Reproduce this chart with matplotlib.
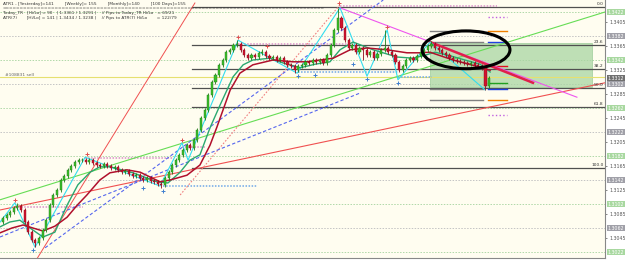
import matplotlib
matplotlib.use("Agg")
import matplotlib.pyplot as plt
from matplotlib.patches import Ellipse, Rectangle

# ---------------- data ----------------
closes = [
1.3079,1.3084,1.3089,1.3095,1.3099,1.3092,1.3072,1.3055,1.3042,1.3037,
1.3045,1.3059,1.3075,1.3100,1.3117,1.3125,1.3142,1.3149,1.3159,1.3165,
1.3172,1.3175,1.3175,1.3172,1.3175,1.3170,1.3167,1.3165,1.3169,1.3165,
1.3162,1.3164,1.3159,1.3155,1.3157,1.3152,1.3149,1.3150,1.3145,1.3142,
1.3145,1.3140,1.3139,1.3135,1.3134,1.3145,1.3155,1.3167,1.3175,1.3184,
1.3192,1.3200,1.3195,1.3209,1.3225,1.3245,1.3259,1.3284,1.3305,1.3317,
1.3334,1.3342,1.3355,1.3359,1.3367,1.3369,1.3359,1.3350,1.3345,1.3350,
1.3347,1.3354,1.3355,1.3349,1.3345,1.3347,1.3342,1.3345,1.3339,1.3334,
1.3332,1.3325,1.3332,1.3334,1.3339,1.3337,1.3342,1.3339,1.3342,1.3337,
1.3350,1.3367,1.3392,1.3412,1.3395,1.3375,1.3362,1.3367,1.3355,1.3362,
1.3359,1.3350,1.3355,1.3345,1.3352,1.3359,1.3362,1.3355,1.3350,1.3339,
1.3325,1.3332,1.3342,1.3345,1.3342,1.3349,1.3355,1.3359,1.3365,1.3369,
1.3362,1.3359,1.3354,1.3350,1.3345,1.3342,1.3340,1.3339,1.3337,1.3335,
1.3337,1.3334,1.3332,1.3329,1.3299,1.3312]
opens = [
1.3072,1.3079,1.3084,1.3089,1.3095,1.3099,1.3092,1.3072,1.3055,1.3042,
1.3037,1.3045,1.3059,1.3075,1.3100,1.3117,1.3125,1.3142,1.3149,1.3159,
1.3165,1.3172,1.3175,1.3175,1.3172,1.3175,1.3170,1.3167,1.3165,1.3169,
1.3165,1.3162,1.3164,1.3159,1.3155,1.3157,1.3152,1.3149,1.3150,1.3145,
1.3142,1.3145,1.3140,1.3139,1.3135,1.3134,1.3145,1.3155,1.3167,1.3175,
1.3184,1.3192,1.3200,1.3195,1.3209,1.3225,1.3245,1.3259,1.3284,1.3305,
1.3317,1.3334,1.3342,1.3355,1.3359,1.3367,1.3369,1.3359,1.3350,1.3345,
1.3350,1.3347,1.3354,1.3355,1.3349,1.3345,1.3347,1.3342,1.3345,1.3339,
1.3334,1.3332,1.3325,1.3332,1.3334,1.3339,1.3337,1.3342,1.3339,1.3342,
1.3337,1.3350,1.3367,1.3392,1.3412,1.3395,1.3375,1.3362,1.3367,1.3355,
1.3362,1.3359,1.3350,1.3355,1.3345,1.3352,1.3359,1.3362,1.3355,1.3350,
1.3339,1.3325,1.3332,1.3342,1.3345,1.3342,1.3349,1.3355,1.3359,1.3365,
1.3369,1.3362,1.3359,1.3354,1.3350,1.3345,1.3342,1.3340,1.3339,1.3337,
1.3335,1.3337,1.3334,1.3332,1.3329,1.3299]
upper_wick_pips = [
3,3,3,3,5,3,3,3,3,3,
3,3,3,3,3,3,3,3,3,3,
3,4,3,3,4,3,3,3,3,3,
3,3,3,3,3,3,3,3,3,3,
3,3,3,3,3,3,3,3,3,3,
3,3,3,3,3,3,3,3,3,3,
3,3,3,3,3,7,3,3,3,3,
3,3,6,3,3,3,3,3,3,3,
3,3,3,3,3,3,3,3,3,3,
3,3,3,17,3,3,3,3,3,3,
3,3,3,3,3,3,30,3,3,3,
3,3,3,3,3,3,3,3,3,4,
3,3,3,3,3,3,3,3,3,3,
3,3,3,3,3,3]
lower_wick_pips = [
3,3,3,3,3,3,3,3,3,7,
3,3,3,3,3,3,3,3,3,3,
3,3,3,3,3,3,3,3,3,3,
3,3,3,3,3,3,3,3,3,3,
3,3,3,3,5,3,3,3,3,3,
3,3,3,3,3,3,3,3,3,3,
3,3,3,3,3,3,3,3,3,3,
3,3,3,3,3,3,3,3,3,3,
3,5,3,3,3,3,3,3,3,3,
3,3,3,3,3,3,3,3,3,3,
17,3,3,3,3,3,3,3,3,3,
3,3,3,3,3,3,3,3,3,3,
3,3,3,3,3,3,3,3,3,3,
3,3,3,3,7,3]

fast_ma_x = [-0.8,1.9,4.7,7.5,11.1,14.4,17.8,20.8,24.2,26.9,29.7,36.1,42.8,45.8,49.2,51.9,54.7,57.5,60.3,63.9,
             66.7,69.4,74.2,77.8,82.5,86.7,90.8,93.6,97.2,102.8,109.4,113.9,117.2,120,124.2,128.3,132.5,135.3]
fast_ma_y = [1.3064,1.3072,1.3075,1.3062,1.3047,1.3055,1.3100,1.3134,1.3155,1.3164,1.3164,1.3154,1.3139,1.3137,
             1.3155,1.3175,1.3184,1.3229,1.3267,1.3314,1.3334,1.3342,1.3345,1.3337,1.3329,1.3335,1.3339,1.3359,
             1.3372,1.3359,1.3347,1.3345,1.3350,1.3355,1.3349,1.3342,1.3335,1.3322]
slow_ma_x = [-0.8,2.5,5.6,8.3,11.1,14.4,17.8,20.6,23.3,26.9,29.7,34.4,38.1,43.6,46.4,51.1,54.7,57.5,59.4,63.1,
             65.8,69.4,75,80.6,84.4,91.7,96.4,101.1,106.7,112.2,115.8,118.6,125,132.5,135.3]
slow_ma_y = [1.3054,1.3062,1.3067,1.3062,1.3057,1.3065,1.3080,1.3100,1.3117,1.3142,1.3154,1.3159,1.3155,1.3139,
             1.3142,1.3150,1.3167,1.3200,1.3230,1.3292,1.3320,1.3334,1.3342,1.3339,1.3339,1.3345,1.3359,1.3362,
             1.3359,1.3354,1.3354,1.3355,1.3342,1.3330,1.3325]

zigzag_x = [-0.8,3.3,8.9,22.8,43.6,49.7,51.4,65.3,81.7,93.6,101.1,106.7,109.7,118.6,133.9]
zigzag_y = [1.3072,1.3104,1.3030,1.3180,1.3132,1.3204,1.3175,1.3375,1.3320,1.3429,1.3315,1.3392,1.3309,1.3372,1.3292]

high_mark_x = [3.3,23.3,49.7,65.3,73.3,93.3,106.7]
high_mark_y = [1.3109,1.3185,1.3209,1.3380,1.3365,1.3437,1.3397]
low_mark_x = [8.3,38.9,44.4,81.9,86.7,97.2,101.1,109.7]
low_mark_y = [1.3025,1.3129,1.3124,1.3315,1.3317,1.3335,1.3310,1.3304]

# trend lines: (x0, y0, x1, y1)
trend_lines = {
    "green":   (-0.83, 1.3109, 167.2, 1.3422),
    "red":     (-0.83, 1.3092, 167.2, 1.3304),
    "steep":   (8.33, 1.3000, 53.3, 1.3437),
    "salmon":  (49.2, 1.3117, 93.6, 1.3434),
    "magenta": (93.6, 1.3429, 159.4, 1.3280),
    "thick":   (118.6, 1.3372, 147.2, 1.3304),
    "blue1":   (11.7, 1.3029, 105.6, 1.3442),
    "blue2":   (-0.83, 1.3047, 99.2, 1.3287),
}

fib_high, fib_low = 1.3430, 1.3162
fib_ratios = [0.0, 23.6, 38.2, 50.0, 61.8, 100.0]

pink_levels = [(3.3, 22.2, 1.3097), (22.8, 47.2, 1.3179), (49.7, 56.1, 1.3197),
               (65.3, 96.4, 1.3369), (93.6, 137.2, 1.3432)]
blue_levels = [(44.4, 70.6, 1.3132), (81.9, 109.7, 1.3322), (109.7, 119.2, 1.3314)]
pivot_left = [1.3390, 1.3372, 1.3294, 1.3275]
pivot_right = [(1.3414, '#c060e0', ':'), (1.3390, '#f08000', '-'), (1.3372, '#2040e0', '-'),
               (1.3332, '#e01020', '-'), (1.3304, '#20a020', '-'), (1.3294, '#2040e0', '-'),
               (1.3275, '#f08000', '-'), (1.3250, '#c060e0', ':')]
sell_level = 1.3314
grid_green = [1.3422, 1.3342, 1.3262, 1.3182, 1.3102, 1.3022]
grid_gray = [1.3382, 1.3302, 1.3222, 1.3142, 1.3062]
tick_prices = [1.3405, 1.3365, 1.3325, 1.3285, 1.3245, 1.3205, 1.3165, 1.3125, 1.3085, 1.3045]
current_price = 1.3312
box = (118.6, 163.6, 1.3297, 1.3370)
ellipse = (128.6, 1.3359, 24.4, 0.0063)

header = [
    "ATR1 - [Yesterday]=141        [Weekly]= 155        [Monthly]=140        [100 Days]=155",
    "=" * 92,
    "Today_TR   [Hi/Lo] = 90   | 1.3361 / 1.3291 |    // Pips to Today_TR Hi/Lo   = 69/21",
    "ATR(7)       [Hi/Lo] = 141 | 1.3434 / 1.3238 |    // Pips to ATR(7) Hi/Lo       = 122/79",
]

# ---------------- drawing ----------------
W, H = 625, 260
fig = plt.figure(figsize=(W / 100, H / 100), dpi=100)
fig.patch.set_facecolor('white')
ax = fig.add_axes([0, 2 / H, 605 / W, 258 / H])
ax.set_facecolor('#fffdf0')
ax.set_xlim(-0.83, 167.2)
ax.set_ylim(1.3012, 1.3442)

# grid-like pivot dotted lines
for p in grid_green:
    ax.axhline(p, color='#b0d8a8', lw=0.7, ls=(0, (1.5, 1.5)), zorder=1)
for p in grid_gray:
    ax.axhline(p, color='#c4c4c4', lw=0.7, ls=(0, (1.5, 1.5)), zorder=1)

# green box
bx0, bx1, by0, by1 = box
ax.add_patch(Rectangle((bx0, by0), bx1 - bx0, by1 - by0, fc='#a9d6a2', ec='#88c088',
                       lw=0.5, alpha=0.75, zorder=1.5))

# sell line
ax.axhline(sell_level, color='#e6e070', lw=0.8, zorder=2)
ax.text(0.6, sell_level, "#108831 sell", fontsize=3.2, color='#666666', va='bottom', zorder=6)

# fib lines
for r in fib_ratios:
    lvl = fib_high - (fib_high - fib_low) * r / 100
    ax.plot([52.5, 167.2], [lvl, lvl], color='#505050', lw=0.9, zorder=2)
    ax.text(166.8, lvl + 0.00012, f"{r:.1f}", fontsize=3.2, color='#333333', ha='right', va='bottom', zorder=6)

# horizontal level markers
for x0, x1, p in pink_levels:
    ax.plot([x0, x1], [p, p], color='#d890c8', lw=1.1, ls=(0, (1, 1)), zorder=2)
for x0, x1, p in blue_levels:
    ax.plot([x0, x1], [p, p], color='#70a8e8', lw=1.1, ls=(0, (1, 1)), zorder=2)
for p in pivot_left:
    ax.plot([118.6, 133.3], [p, p], color='#808080', lw=1.0, zorder=2)
for p, c, ls in pivot_right:
    ax.plot([134.7, 140.0], [p, p], color=c, lw=1.0, ls=ls, zorder=2)

# trend lines
tl_style = {
    "green":   dict(color='#66dd55', lw=0.8),
    "red":     dict(color='#f05050', lw=0.8),
    "steep":   dict(color='#f05050', lw=0.7),
    "salmon":  dict(color='#f08080', lw=0.8, ls=(0, (1.5, 1.5))),
    "magenta": dict(color='#ee55ee', lw=0.8),
    "thick":   dict(color='#e0204a', lw=1.8),
    "blue1":   dict(color='#5566ee', lw=0.8, ls=(0, (3, 2))),
    "blue2":   dict(color='#5566ee', lw=0.8, ls=(0, (3, 2))),
}
for k, (x0, y0, x1, y1) in trend_lines.items():
    ax.plot([x0, x1], [y0, y1], zorder=3, **tl_style[k])

# zigzag
ax.plot(zigzag_x, zigzag_y, color='#33ddee', lw=0.8, zorder=3)

# moving averages
ax.plot(fast_ma_x, fast_ma_y, color='#2aa870', lw=1.0, zorder=4)
ax.plot(slow_ma_x, slow_ma_y, color='#b0102c', lw=1.1, zorder=4)

# candles
for i, (o, c, uw, lw_) in enumerate(zip(opens, closes, upper_wick_pips, lower_wick_pips)):
    hi = max(o, c) + uw * 0.0001
    lo = min(o, c) - lw_ * 0.0001
    bull = c >= o
    col = '#3cbf2a' if bull else '#d0142e'
    ecol = '#1f7a18' if bull else '#8a0a1e'
    ax.vlines(i, lo, hi, color=ecol, lw=0.6, zorder=5)
    hgt = max(abs(c - o), 0.00006)
    ax.bar(i, hgt, bottom=min(o, c), width=0.6, color=col, edgecolor=ecol, lw=0.3, zorder=5)

# fractal markers
ax.scatter(high_mark_x, high_mark_y, marker='+', s=6, color='#e05050', lw=0.7, zorder=6)
ax.scatter(low_mark_x, low_mark_y, marker='+', s=6, color='#4080d0', lw=0.7, zorder=6)

# ellipse
ex, ey, ew, eh = ellipse
ax.add_patch(Ellipse((ex, ey), ew, eh, fill=False, ec='black', lw=2.2, zorder=7))

# axis styling
for s in ['top', 'left']:
    ax.spines[s].set_visible(False)
for s in ['right', 'bottom']:
    ax.spines[s].set_color('#888888')
    ax.spines[s].set_linewidth(0.8)
ax.set_xticks([])
ax.yaxis.tick_right()
ax.set_yticks(tick_prices)
ax.set_yticklabels([f"{p:.4f}" for p in tick_prices])
ax.tick_params(axis='y', labelsize=3.4, length=1.5, width=0.5, colors='#555555', pad=1.5)

ytr = ax.get_yaxis_transform()
for p in grid_green:
    ax.text(1.004, p, f"{p:.4f}", transform=ytr, fontsize=3.4, color='#ffffff', va='center',
            clip_on=False, bbox=dict(fc='#a8d8a0', ec='none', pad=0.6), zorder=8)
for p in grid_gray:
    ax.text(1.004, p, f"{p:.4f}", transform=ytr, fontsize=3.4, color='#ffffff', va='center',
            clip_on=False, bbox=dict(fc='#a0a0a8', ec='none', pad=0.6), zorder=8)
ax.text(1.004, current_price, f"{current_price:.4f}", transform=ytr, fontsize=3.4, color='#ffffff',
        va='center', clip_on=False, bbox=dict(fc='#707070', ec='none', pad=0.6), zorder=9)

# header text
hy = [4, 8.5, 13, 18.5]
for t, y in zip(header, hy):
    fig.text(3 / W, 1 - y / H, t, fontsize=3.1, color='#333333', va='center', ha='left',
             family='DejaVu Sans')

fig.savefig("out.png", dpi=100)
